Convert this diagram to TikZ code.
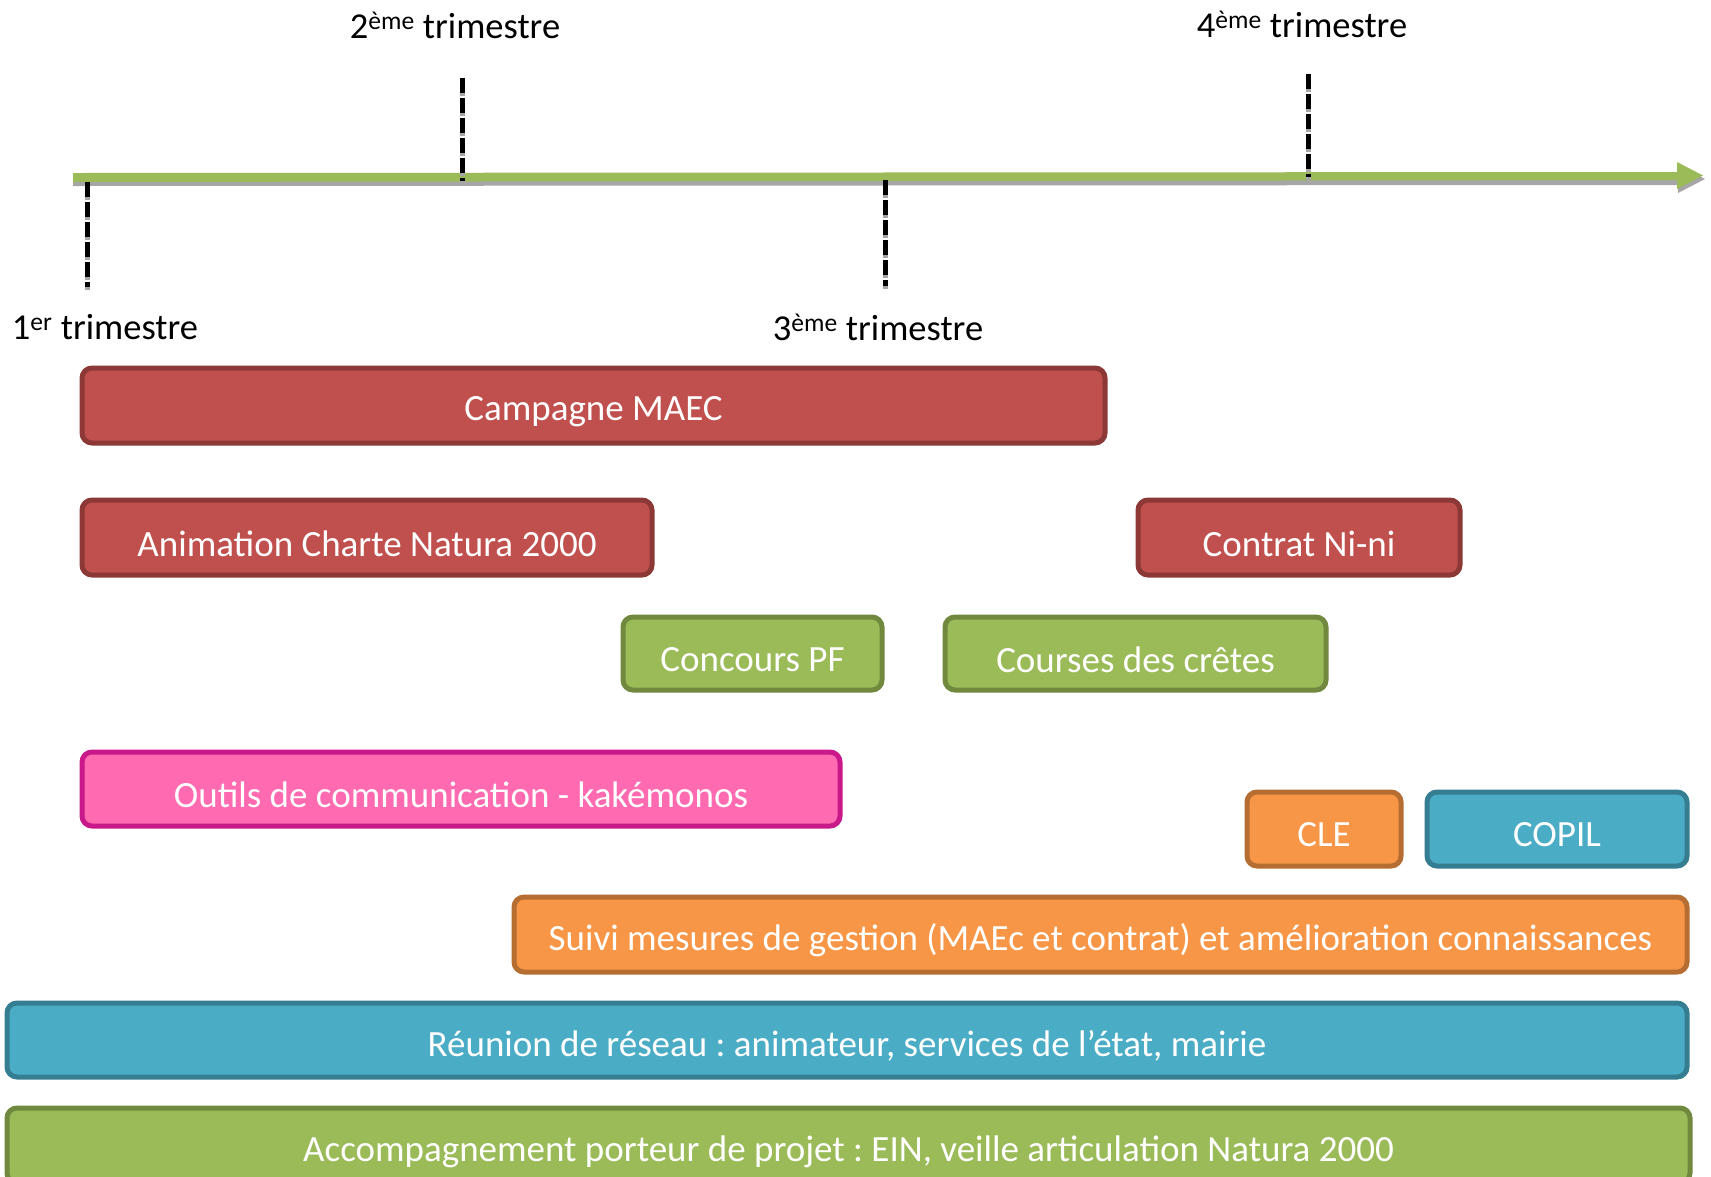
\documentclass[tikz,border=0pt]{standalone}
\usepackage{fontspec}
\setmainfont{Carlito}
\frenchspacing
\definecolor{redF}{HTML}{C0504D}\definecolor{redD}{HTML}{8C3836}
\definecolor{grnF}{HTML}{9BBB59}\definecolor{grnD}{HTML}{71893F}
\definecolor{pnkF}{HTML}{FF6AB1}\definecolor{pnkD}{HTML}{C8188A}
\definecolor{orgF}{HTML}{F79646}\definecolor{orgD}{HTML}{B66D31}
\definecolor{bluF}{HTML}{4BACC6}\definecolor{bluD}{HTML}{357D91}
\definecolor{shad}{HTML}{A6A6A6}
\tikzset{
  bar/.style={rounded corners=10pt, line width=5pt},
  btxt/.style={text=white, font=\fontsize{37}{44}\selectfont, anchor=center},
  lbl/.style={font=\fontsize{36.5}{44}\selectfont, anchor=center},
  tickline/.style={line width=5pt, dash pattern=on 15pt off 5pt},
}
\newcommand{\barbox}[7]{% name, x1,y1,x2,y2, colour pair, text
  \draw[bar, fill=#6F, draw=#6D] (#2,#3) rectangle (#4,#5);
  \node[btxt] (#1) at ({(#2+#4)/2},{(#3+#5)/2+6}) {#7};
}
\begin{document}
\begin{tikzpicture}[x=1pt,y=-1pt]
\useasboundingbox (0,0) rectangle (1711,1176);
\clip (0,0) rectangle (1711,1176);
% timeline shadow
\fill[shad] (73,177) -- (1678,176) -- (1678,165) -- (1705,179) -- (1678,193) -- (1678,185) -- (73,186) -- cycle;
% timeline
\fill[grnF] (73,173) -- (1677,172) -- (1677,162) -- (1703,175.5) -- (1677,189) -- (1677,180) -- (73,182) -- cycle;
% ticks
\foreach \x/\ya/\yb in {87/182/287, 462/78/181, 885/180/286, 1308/74/177}{
  \draw[tickline, shad] (\x,\ya+3) -- (\x,\yb+3);
  \draw[tickline, black] (\x,\ya) -- (\x,\yb);
}
% labels
\node[lbl] (t2) at (455,25) {2\textsuperscript{ème} trimestre};
\node[lbl] (t4) at (1302,24) {4\textsuperscript{ème} trimestre};
\node[lbl] (t1) at (105,327) {1\textsuperscript{er} trimestre};
\node[lbl] (t3) at (878,327) {3\textsuperscript{ème} trimestre};
% bars
\barbox{maec}{82}{368}{1105}{443}{red}{Campagne MAEC}
\barbox{charte}{82}{500}{652}{575}{red}{Animation Charte Natura 2000}
\barbox{nini}{1138}{500}{1460}{575}{red}{Contrat Ni-ni}
\barbox{pf}{623}{617}{882}{690}{grn}{Concours PF}
\barbox{cretes}{945}{617}{1326}{690}{grn}{Courses des crêtes}
\barbox{outils}{82}{752}{840}{826}{pnk}{Outils de communication - kakémonos}
\barbox{cle}{1247}{792}{1401}{866}{org}{CLE}
\barbox{copil}{1427}{792}{1687}{866}{blu}{COPIL}
\barbox{suivi}{514}{897}{1687}{972}{org}{Suivi mesures de gestion (MAEc et contrat) et amélioration connaissances}
\barbox{reseau}{7}{1003}{1687}{1077}{blu}{Réunion de réseau : animateur, services de l’état, mairie}
\barbox{accomp}{7}{1108}{1690}{1183}{grn}{Accompagnement porteur de projet : EIN, veille articulation Natura 2000}
\end{tikzpicture}
\end{document}
